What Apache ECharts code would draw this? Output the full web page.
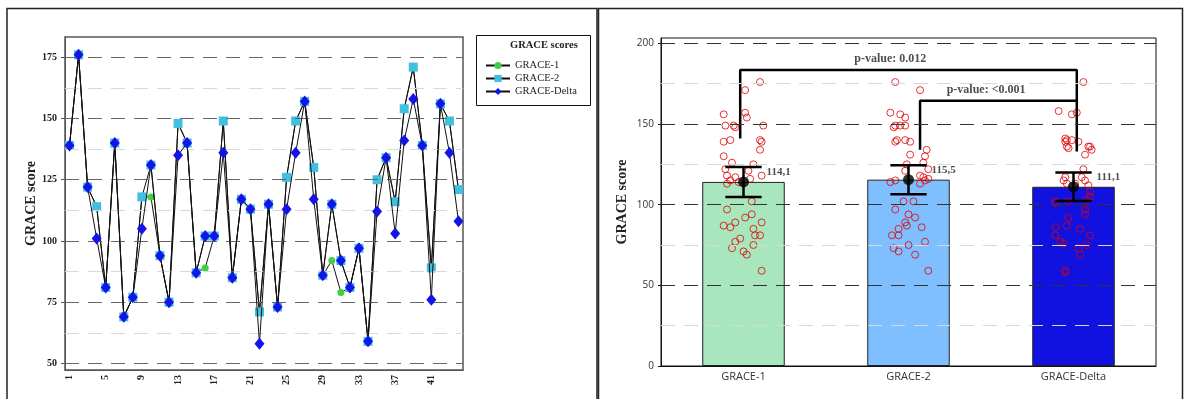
<!DOCTYPE html>
<html>
<head>
<meta charset="utf-8">
<script src="https://cdn.jsdelivr.net/npm/echarts@6/dist/echarts.min.js"></script>
<style>
  html, body { margin: 0; background: #fff; }
  #chart { width: 1187px; height: 399px; }
</style>
</head>
<body>
<div id="chart"></div>
<script>
// per-patient GRACE scores (44 patients)
const patients = Array.from({ length: 44 }, (_, i) => String(i + 1));
const grace1 = [139,176,122,114,81,140,69,77,118,118,94,75,148,140,87,89,102,149,85,117,113,71,115,73,126,149,157,130,86,92,79,81,97,59,125,134,116,154,171,139,89,156,149,121];
const grace2 = [139,176,122,114,81,140,69,77,118,131,94,75,148,140,87,102,102,149,85,117,113,71,115,73,126,149,157,130,86,115,92,81,97,59,125,134,116,154,171,139,89,156,149,121];
const graceDelta = [139,176,122,101,81,140,69,77,105,131,94,75,135,140,87,102,102,136,85,117,113,58,115,73,113,136,157,117,86,115,92,81,97,59,112,134,103,141,158,139,76,156,136,108];

// horizontal jitter of the dots in the bar chart (fraction of a category band)
const jitter1 = [-0.12,0.10,-0.11,-0.03,0.07,-0.08,0.02,-0.05,-0.10,0.11,0.05,0.06,-0.05,0.10,-0.12,-0.05,0.05,-0.11,0.06,-0.05,-0.10,0.00,-0.08,-0.07,-0.07,-0.06,0.01,-0.12,-0.08,0.01,-0.02,0.10,-0.10,0.11,0.06,0.10,0.04,0.02,0.01,0.11,0.11,-0.12,0.12,0.03];
const jitter2 = [-0.08,-0.08,0.12,-0.11,-0.10,-0.07,0.04,0.10,0.07,0.01,0.00,0.00,-0.09,-0.02,-0.01,-0.03,0.03,-0.08,-0.06,0.09,0.07,-0.06,-0.08,-0.09,0.09,-0.05,-0.11,0.10,0.08,0.10,0.04,-0.06,-0.08,0.12,-0.01,0.11,0.12,-0.02,0.07,0.01,-0.02,-0.05,-0.02,-0.02];
const jitterD = [-0.05,0.06,0.06,-0.11,-0.11,-0.04,0.04,-0.08,0.10,0.07,0.07,0.08,-0.03,-0.01,-0.04,-0.11,-0.03,-0.04,0.04,-0.05,-0.04,-0.05,-0.06,0.03,0.01,0.09,0.02,0.05,-0.11,0.07,-0.03,0.10,0.07,-0.05,0.09,0.11,0.08,-0.05,-0.09,0.03,-0.06,-0.01,0.10,0.10];

// bar chart summary
const groups = ['GRACE-1', 'GRACE-2', 'GRACE-Delta'];
const means = [114.1, 115.5, 111.1];
const meanLabels = ['114,1', '115,5', '111,1'];
const ciLow = [104.8, 106.5, 102.2];
const ciHigh = [123.4, 124.5, 120.0];
const barColors = ['#a8e6bd', '#80bfff', '#1212e0'];

// significance brackets, x in category units (centres at 0.5, 1.5, 2.5)
const bracket1 = [[0.48, 141], [0.48, 183.5], [2.52, 183.5], [2.52, 133]];
const bracket2 = [[1.57, 134], [1.57, 164.4], [2.52, 164.4]];
const pTexts = [
  { value: [1.39, 190.5], name: 'p-value: 0.012' },
  { value: [1.97, 171], name: 'p-value: <0.001' }
];
const meanTextPos = [[0.64, 120.3], [1.64, 121.5], [2.64, 117.3]];

const leftMajor = [50, 75, 100, 125, 150, 175];
const leftMinor = [62.5, 87.5, 112.5, 137.5, 162.5];
const rightLabels = [0, 50, 100, 150, 200];
const rightMajor = [50, 100, 150, 200];
const rightMinor = [25, 75, 125, 175];

const serif = 'Liberation Serif';
const sans = 'Open Sans';

function gridMarks(major, minor, majorColor) {
  return major.map(v => ({ yAxis: v, lineStyle: { color: majorColor, type: [14, 9], width: 1 } }))
    .concat(minor.map(v => ({ yAxis: v, lineStyle: { color: '#d8d8d8', type: [14, 9], width: 1 } })));
}

function scatterData(values, jit, g) {
  return values.map((v, i) => [g + 0.5 + jit[i], v]);
}

const chart = echarts.init(document.getElementById('chart'));

const option = {
  animation: false,
  backgroundColor: '#fff',
  grid: [
    { left: 65, top: 37, width: 398, height: 333, show: true, borderColor: '#555', borderWidth: 1.5 },
    { left: 661, top: 38, width: 495, height: 328, show: true, borderColor: '#111', borderWidth: 1 }
  ],
  xAxis: [
    {
      type: 'category', gridIndex: 0, data: patients, boundaryGap: true,
      axisLine: { lineStyle: { color: '#555' } },
      axisTick: { alignWithLabel: true, interval: 3, length: 4, lineStyle: { color: '#555' } },
      axisLabel: { interval: 3, rotate: 90, margin: 5, fontFamily: serif, fontWeight: 'bold', fontSize: 10, color: '#222' }
    },
    {
      type: 'category', gridIndex: 1, data: groups, boundaryGap: true,
      axisLine: { lineStyle: { color: '#111' } },
      axisTick: { alignWithLabel: true, length: 4, lineStyle: { color: '#111' } },
      axisLabel: { margin: 5, fontFamily: sans, fontSize: 11, color: '#333' }
    },
    { type: 'value', gridIndex: 1, min: 0, max: 3, show: false }
  ],
  yAxis: [
    {
      type: 'value', gridIndex: 0, min: 47.3, max: 183.3,
      name: 'GRACE score', nameLocation: 'middle', nameGap: 25,
      nameTextStyle: { fontFamily: serif, fontWeight: 'bold', fontSize: 14, color: '#222' },
      splitLine: { show: false },
      axisLine: { show: true, lineStyle: { color: '#555' } },
      axisTick: { show: true, customValues: leftMajor, length: 4, lineStyle: { color: '#555' } },
      axisLabel: { customValues: leftMajor, margin: 8, fontFamily: serif, fontWeight: 'bold', fontSize: 10, color: '#222' }
    },
    {
      type: 'value', gridIndex: 1, min: 0, max: 203.3,
      name: 'GRACE score', nameLocation: 'middle', nameGap: 32,
      nameTextStyle: { fontFamily: serif, fontWeight: 'bold', fontSize: 14, color: '#222' },
      splitLine: { show: false },
      axisLine: { show: true, lineStyle: { color: '#111' } },
      axisTick: { show: true, customValues: rightLabels, length: 3, lineStyle: { color: '#111' } },
      axisLabel: { customValues: rightLabels, margin: 7, fontFamily: sans, fontSize: 10, color: '#333' }
    }
  ],
  legend: {
    data: ['GRACE-1', 'GRACE-2', 'GRACE-Delta'],
    orient: 'vertical', left: 480, top: 55, itemWidth: 24, itemHeight: 9, itemGap: 2,
    textStyle: { fontFamily: serif, fontSize: 10.5, color: '#222' }
  },
  graphic: [
    { type: 'rect', shape: { x: 7, y: 8.5, width: 590, height: 400 }, style: { fill: 'none', stroke: '#222', lineWidth: 1.5 }, silent: true },
    { type: 'rect', shape: { x: 598.5, y: 8.5, width: 584, height: 400 }, style: { fill: 'none', stroke: '#222', lineWidth: 1.5 }, silent: true },
    { type: 'rect', shape: { x: 476.5, y: 35.5, width: 114, height: 70 }, style: { fill: 'none', stroke: '#111', lineWidth: 1 }, silent: true },
    { type: 'text', left: 510, top: 40, style: { text: 'GRACE scores', fontFamily: serif, fontWeight: 'bold', fontSize: 10.5, fill: '#222' }, silent: true }
  ],
  series: [
    // left: grid lines
    {
      type: 'line', xAxisIndex: 0, yAxisIndex: 0, data: [], silent: true, z: 1,
      markLine: { symbol: 'none', silent: true, label: { show: false }, animation: false, data: gridMarks(leftMajor, leftMinor, '#666') }
    },
    {
      name: 'GRACE-1', type: 'line', xAxisIndex: 0, yAxisIndex: 0, data: grace1, z: 3, showAllSymbol: true,
      symbol: 'circle', symbolSize: 7, itemStyle: { color: '#3fd13f' }, lineStyle: { color: '#111', width: 1 }
    },
    {
      name: 'GRACE-2', type: 'line', xAxisIndex: 0, yAxisIndex: 0, data: grace2, z: 4, showAllSymbol: true,
      symbol: 'rect', symbolSize: 9, itemStyle: { color: '#40c0e0' }, lineStyle: { color: '#111', width: 1 }
    },
    {
      name: 'GRACE-Delta', type: 'line', xAxisIndex: 0, yAxisIndex: 0, data: graceDelta, z: 5, showAllSymbol: true,
      symbol: 'diamond', symbolSize: [10, 12], itemStyle: { color: '#1414e8' }, lineStyle: { color: '#111', width: 1 }
    },
    // right: grid lines
    {
      type: 'line', xAxisIndex: 1, yAxisIndex: 1, data: [], silent: true, z: 1,
      markLine: { symbol: 'none', silent: true, label: { show: false }, animation: false, data: gridMarks(rightMajor, rightMinor, '#333') }
    },
    {
      type: 'bar', xAxisIndex: 1, yAxisIndex: 1, barWidth: '50%', z: 2,
      data: means.map((m, i) => ({ value: m, itemStyle: { color: barColors[i] } })),
      itemStyle: { borderColor: '#222', borderWidth: 1 }
    },
    ...[grace1, grace2, graceDelta].map((vals, g) => ({
      type: 'scatter', xAxisIndex: 2, yAxisIndex: 1, z: 3,
      data: scatterData(vals, [jitter1, jitter2, jitterD][g], g),
      symbol: 'circle', symbolSize: 7,
      itemStyle: { color: 'rgba(0,0,0,0)', borderColor: '#e00000', borderWidth: 1 }
    })),
    ...[bracket1, bracket2].map(b => ({
      type: 'line', xAxisIndex: 2, yAxisIndex: 1, data: b, z: 4, symbol: 'none',
      lineStyle: { color: '#000', width: 2.5 }
    })),
    {
      type: 'custom', xAxisIndex: 2, yAxisIndex: 1, z: 5,
      data: means.map((m, i) => [i + 0.5, ciLow[i], ciHigh[i]]),
      renderItem: (params, api) => {
        const x = api.value(0);
        const top = api.coord([x, api.value(2)]);
        const bot = api.coord([x, api.value(1)]);
        const l = api.coord([x - 0.11, 0])[0];
        const r = api.coord([x + 0.11, 0])[0];
        const st = { stroke: '#000', lineWidth: 2.5 };
        return {
          type: 'group', children: [
            { type: 'line', shape: { x1: top[0], y1: top[1], x2: bot[0], y2: bot[1] }, style: st },
            { type: 'line', shape: { x1: l, y1: top[1], x2: r, y2: top[1] }, style: st },
            { type: 'line', shape: { x1: l, y1: bot[1], x2: r, y2: bot[1] }, style: st }
          ]
        };
      }
    },
    {
      type: 'scatter', xAxisIndex: 2, yAxisIndex: 1, z: 6, symbol: 'circle', symbolSize: 11,
      itemStyle: { color: '#000' }, data: means.map((m, i) => [i + 0.5, m])
    },
    {
      type: 'scatter', xAxisIndex: 2, yAxisIndex: 1, z: 6, symbolSize: 0, silent: true,
      data: meanTextPos.map((p, i) => ({ value: p, name: meanLabels[i] })),
      label: { show: true, position: [0, 0], align: 'left', verticalAlign: 'middle', formatter: '{b}',
        fontFamily: serif, fontWeight: 'bold', fontSize: 11, color: '#222' }
    },
    {
      type: 'scatter', xAxisIndex: 2, yAxisIndex: 1, z: 6, symbolSize: 0, silent: true,
      data: pTexts,
      label: { show: true, position: [0, 0], align: 'center', verticalAlign: 'middle', formatter: '{b}',
        fontFamily: serif, fontWeight: 'bold', fontSize: 12, color: '#222' }
    }
  ]
};

chart.setOption(option);
</script>
</body>
</html>
